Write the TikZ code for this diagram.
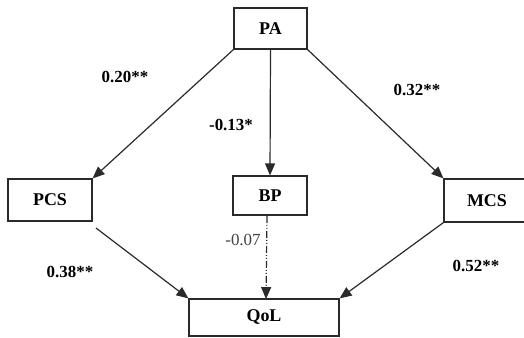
\documentclass[tikz,border=0pt]{standalone}
\usepackage{fontspec}
\setmainfont{Liberation Serif}
\usetikzlibrary{arrows.meta}
\definecolor{ln}{HTML}{2A2A2A}
\definecolor{gt}{HTML}{444444}
\tikzset{
  box/.style={draw=ln, line width=1.2pt, rectangle, inner sep=0pt, font=\fontsize{18}{21}\selectfont\bfseries, text=black},
  conn/.style={draw=ln, line width=1.2pt, -{Stealth[length=12pt,width=10pt,inset=0pt]}},
  coef/.style={font=\fontsize{17}{20}\selectfont\bfseries, text=black, inner sep=0pt},
  coefg/.style={font=\fontsize{17}{20}\selectfont, text=gt, inner sep=0pt}
}
\begin{document}
\begin{tikzpicture}[x=1bp,y=-1bp]
\useasboundingbox (0,0) rectangle (524,337);
\clip (0,0) rectangle (524,337);
\fill[white] (0,0) rectangle (524,337);
\node[box, minimum width=73bp, minimum height=41bp] (PA) at (270.5,28.5) {PA};
\node[box, minimum width=74bp, minimum height=39bp] (BP) at (270,195.5) {BP};
\node[box, minimum width=150bp, minimum height=37bp] (QoL) at (264,317.5) {QoL};
\node[box, minimum width=84bp, minimum height=42bp] (PCS) at (50,200) {PCS};
\node[box, minimum width=86bp, minimum height=43bp, text width=86bp, align=left] (MCS) at (487,200.5) {\hspace*{23bp}MCS};
\coordinate (pcsout) at (96,228);
\coordinate (bpout) at (267,216);
\coordinate (qolin) at (266,299);
\draw[conn] (PA.south west) -- (PCS.north east);
\draw[conn] (PA.south east) -- (MCS.north west);
\draw[conn] (PA.south) -- (BP.north);
\draw[conn] (pcsout) -- (QoL.north west);
\draw[conn] (MCS.south west) -- (QoL.north east);
\draw[conn, dash pattern=on 7pt off 2pt on 1pt off 2pt on 1pt off 2pt] (bpout) -- (qolin);
\node[coef] (c1) at (125,77) {0.20**};
\node[coef] (c2) at (231,125) {-0.13*};
\node[coef] (c3) at (417,90) {0.32**};
\node[coefg] (c4) at (243,240) {-0.07};
\node[coef] (c5) at (70,272) {0.38**};
\node[coef] (c6) at (476,266) {0.52**};
\end{tikzpicture}
\end{document}
